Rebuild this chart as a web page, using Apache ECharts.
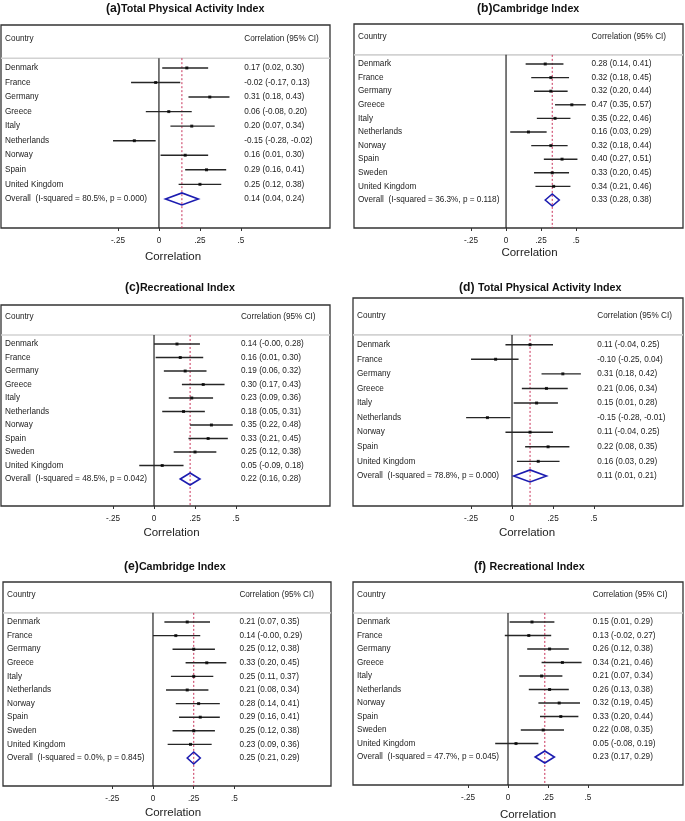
<!DOCTYPE html>
<html>
<head>
<meta charset="utf-8">
<script src="https://cdn.jsdelivr.net/npm/echarts@6/dist/echarts.min.js"></script>
<style>
  html, body { margin: 0; padding: 0; background: #fff; }
  #chart { width: 685px; height: 821px; }
</style>
</head>
<body>
<div id="chart"></div>
<script>
const countries9 = ['Denmark', 'France', 'Germany', 'Greece', 'Italy', 'Netherlands', 'Norway', 'Spain', 'United Kingdom'];
const countries10 = ['Denmark', 'France', 'Germany', 'Greece', 'Italy', 'Netherlands', 'Norway', 'Spain', 'Sweden', 'United Kingdom'];

// (a) Total Physical Activity Index
const aEst = [0.17, -0.02, 0.31, 0.06, 0.20, -0.15, 0.16, 0.29, 0.25];
const aLo = [0.02, -0.17, 0.18, -0.08, 0.07, -0.28, 0.01, 0.16, 0.12];
const aHi = [0.30, 0.13, 0.43, 0.20, 0.34, -0.02, 0.30, 0.41, 0.38];
const aOverall = [0.14, 0.04, 0.24];
const aHet = ['80.5%', '0.000'];

// (b) Cambridge Index
const bEst = [0.28, 0.32, 0.32, 0.47, 0.35, 0.16, 0.32, 0.40, 0.33, 0.34];
const bLo = [0.14, 0.18, 0.20, 0.35, 0.22, 0.03, 0.18, 0.27, 0.20, 0.21];
const bHi = [0.41, 0.45, 0.44, 0.57, 0.46, 0.29, 0.44, 0.51, 0.45, 0.46];
const bOverall = [0.33, 0.28, 0.38];
const bHet = ['36.3%', '0.118'];

// (c) Recreational Index
const cEst = [0.14, 0.16, 0.19, 0.30, 0.23, 0.18, 0.35, 0.33, 0.25, 0.05];
const cLo = [-0.00, 0.01, 0.06, 0.17, 0.09, 0.05, 0.22, 0.21, 0.12, -0.09];
const cHi = [0.28, 0.30, 0.32, 0.43, 0.36, 0.31, 0.48, 0.45, 0.38, 0.18];
const cOverall = [0.22, 0.16, 0.28];
const cHet = ['48.5%', '0.042'];

// (d) Total Physical Activity Index
const dEst = [0.11, -0.10, 0.31, 0.21, 0.15, -0.15, 0.11, 0.22, 0.16];
const dLo = [-0.04, -0.25, 0.18, 0.06, 0.01, -0.28, -0.04, 0.08, 0.03];
const dHi = [0.25, 0.04, 0.42, 0.34, 0.28, -0.01, 0.25, 0.35, 0.29];
const dOverall = [0.11, 0.01, 0.21];
const dHet = ['78.8%', '0.000'];

// (e) Cambridge Index
const eEst = [0.21, 0.14, 0.25, 0.33, 0.25, 0.21, 0.28, 0.29, 0.25, 0.23];
const eLo = [0.07, -0.00, 0.12, 0.20, 0.11, 0.08, 0.14, 0.16, 0.12, 0.09];
const eHi = [0.35, 0.29, 0.38, 0.45, 0.37, 0.34, 0.41, 0.41, 0.38, 0.36];
const eOverall = [0.25, 0.21, 0.29];
const eHet = ['0.0%', '0.845'];

// (f) Recreational Index
const fEst = [0.15, 0.13, 0.26, 0.34, 0.21, 0.26, 0.32, 0.33, 0.22, 0.05];
const fLo = [0.01, -0.02, 0.12, 0.21, 0.07, 0.13, 0.19, 0.20, 0.08, -0.08];
const fHi = [0.29, 0.27, 0.38, 0.46, 0.34, 0.38, 0.45, 0.44, 0.35, 0.19];
const fOverall = [0.23, 0.17, 0.29];
const fHet = ['47.7%', '0.045'];

const tickValues = [-0.25, 0, 0.25, 0.5];
const tickLabels = ['-.25', '0', '.25', '.5'];

const panels = [
  { letter: '(a)', title: 'Total Physical Activity Index', names: countries9, est: aEst, lo: aLo, hi: aHi, overall: aOverall, het: aHet },
  { letter: '(b)', title: 'Cambridge Index', names: countries10, est: bEst, lo: bLo, hi: bHi, overall: bOverall, het: bHet },
  { letter: '(c)', title: 'Recreational Index', names: countries10, est: cEst, lo: cLo, hi: cHi, overall: cOverall, het: cHet },
  { letter: '(d) ', title: 'Total Physical Activity Index', names: countries9, est: dEst, lo: dLo, hi: dHi, overall: dOverall, het: dHet },
  { letter: '(e)', title: 'Cambridge Index', names: countries10, est: eEst, lo: eLo, hi: eHi, overall: eOverall, het: eHet },
  { letter: '(f) ', title: 'Recreational Index', names: countries10, est: fEst, lo: fLo, hi: fHi, overall: fOverall, het: fHet },
];

// box position, axis ranges and text placement for each panel
const layouts = [
  { left: 1, top: 25, width: 329, height: 203, xMin: -0.963, xMax: 1.043, yMin: -2.95, yMax: 11, textX: 0.52, titleLeft: 106, titleTop: 2, nameShift: 7.5, nameGap: 23 },
  { left: 354, top: 24, width: 329, height: 204, xMin: -1.086, xMax: 1.264, yMin: -2.94, yMax: 12.06, textX: 0.61, titleLeft: 477, titleTop: 2, nameShift: 11, nameGap: 19 },
  { left: 1, top: 305, width: 329, height: 201, xMin: -0.933, xMax: 1.073, yMin: -2.89, yMax: 12, textX: 0.53, titleLeft: 125, titleTop: 281, nameShift: 6, nameGap: 21 },
  { left: 353, top: 298, width: 330, height: 208, xMin: -0.970, xMax: 1.043, yMin: -3.2, yMax: 11.06, textX: 0.52, titleLeft: 459, titleTop: 281, nameShift: 9, nameGap: 21 },
  { left: 3, top: 582, width: 328, height: 204, xMin: -0.920, xMax: 1.092, yMin: -2.94, yMax: 12.06, textX: 0.53, titleLeft: 124, titleTop: 560, nameShift: 6, nameGap: 21 },
  { left: 353, top: 582, width: 330, height: 203, xMin: -0.969, xMax: 1.094, yMin: -2.96, yMax: 12.07, textX: 0.53, titleLeft: 474, titleTop: 560, nameShift: 10, nameGap: 24 },
];

const FONT = '"Liberation Sans", Arial, sans-serif';
const TEXT = '#222';
const SEP_Y = -0.67;
const HEAD_Y = -2;

function fmt(v) {
  if (Object.is(v, -0)) return '-0.00';
  return v.toFixed(2);
}

function ciText(e, l, h) {
  return fmt(e) + ' (' + fmt(l) + ', ' + fmt(h) + ')';
}

const grid = [], xAxis = [], yAxis = [], title = [], series = [];

panels.forEach((p, k) => {
  const L = layouts[k];
  const n = p.names.length;

  grid.push({
    left: L.left, top: L.top, width: L.width, height: L.height,
    show: true, borderColor: '#333', borderWidth: 1.3, backgroundColor: '#fff',
    containLabel: false, outerBoundsMode: 'none',
  });

  xAxis.push({
    type: 'value', gridIndex: k, min: L.xMin, max: L.xMax, position: 'bottom',
    axisLine: { show: false, onZero: false },
    axisTick: { show: true, customValues: tickValues, length: 3, lineStyle: { color: '#333' } },
    splitLine: { show: false },
    axisLabel: {
      customValues: tickValues, margin: 9, color: TEXT, fontSize: 8.2, fontFamily: FONT,
      formatter: (v) => { const i = tickValues.indexOf(v); return i >= 0 ? tickLabels[i] : String(v); },
    },
    name: 'Correlation', nameLocation: 'middle', nameGap: L.nameGap,
    nameTextStyle: { color: TEXT, fontSize: 11.5, fontFamily: FONT, padding: [0, 0, 0, L.nameShift * 2] },
  });

  yAxis.push({
    type: 'value', gridIndex: k, inverse: true, min: L.yMin, max: L.yMax, show: false,
  });

  title.push({
    text: '{b|' + p.letter + '}{t|' + p.title + '}',
    left: L.titleLeft, top: L.titleTop, padding: 0,
    textStyle: {
      rich: {
        b: { fontFamily: FONT, fontSize: 12.2, fontWeight: 'bold', color: '#111', lineHeight: 14 },
        t: { fontFamily: FONT, fontSize: 10.7, color: '#111', lineHeight: 14 },
      },
    },
  });

  // header separator, zero line and dashed overall line
  series.push({
    type: 'custom', xAxisIndex: k, yAxisIndex: k, silent: true, z: 1,
    data: [[p.overall[0]]],
    renderItem: (params, api) => {
      const cs = params.coordSys;
      const sep = api.coord([0, SEP_Y]);
      const bot = api.coord([0, L.yMax]);
      const ov = api.coord([api.value(0), SEP_Y]);
      return {
        type: 'group',
        children: [
          { type: 'line', shape: { x1: cs.x, y1: sep[1], x2: cs.x + cs.width, y2: sep[1] }, style: { stroke: '#d2d2d2', lineWidth: 1.6 } },
          { type: 'line', shape: { x1: sep[0], y1: sep[1], x2: bot[0], y2: bot[1] }, style: { stroke: '#222', lineWidth: 1.2 } },
          { type: 'line', shape: { x1: ov[0], y1: ov[1], x2: ov[0], y2: bot[1] }, style: { stroke: '#c8325a', lineWidth: 1, lineDash: [2, 2] } },
        ],
      };
    },
  });

  // confidence intervals
  series.push({
    type: 'custom', xAxisIndex: k, yAxisIndex: k, silent: true, z: 2,
    data: p.lo.map((l, i) => [l, p.hi[i], i]),
    renderItem: (params, api) => {
      const a = api.coord([api.value(0), api.value(2)]);
      const b = api.coord([api.value(1), api.value(2)]);
      return { type: 'line', shape: { x1: a[0], y1: a[1], x2: b[0], y2: b[1] }, style: { stroke: '#262626', lineWidth: 1.4 } };
    },
  });

  // point estimates
  series.push({
    type: 'scatter', xAxisIndex: k, yAxisIndex: k, silent: true, z: 3,
    symbol: 'rect', symbolSize: 3,
    itemStyle: { color: '#000' },
    data: p.est.map((e, i) => [e, i]),
  });

  // overall diamond
  series.push({
    type: 'custom', xAxisIndex: k, yAxisIndex: k, silent: true, z: 3,
    data: [[p.overall[1], p.overall[2], p.overall[0], n]],
    renderItem: (params, api) => {
      const l = api.coord([api.value(0), api.value(3)]);
      const r = api.coord([api.value(1), api.value(3)]);
      const c = api.coord([api.value(2), api.value(3)]);
      return {
        type: 'polygon',
        shape: { points: [[l[0], l[1]], [c[0], c[1] - 6], [r[0], r[1]], [c[0], c[1] + 6]] },
        style: { fill: 'none', stroke: '#1c1cb0', lineWidth: 1.6 },
      };
    },
  });

  // text columns
  const rows = p.names.map((name, i) => ({ name: name, ci: ciText(p.est[i], p.lo[i], p.hi[i]), y: i }));
  rows.push({ name: 'Overall  (I-squared = ' + p.het[0] + ', p = ' + p.het[1] + ')', ci: ciText(p.overall[0], p.overall[1], p.overall[2]), y: n });
  rows.push({ name: 'Country', ci: 'Correlation (95% CI)', y: HEAD_Y });

  series.push({
    type: 'custom', xAxisIndex: k, yAxisIndex: k, silent: true, z: 4,
    data: rows.map((r) => [L.xMin, r.y]),
    renderItem: (params, api) => {
      const r = rows[params.dataIndex];
      const a = api.coord([L.xMin, r.y]);
      const b = api.coord([L.textX, r.y]);
      const st = { fontFamily: FONT, fontSize: 8.2, fill: TEXT, align: 'left', verticalAlign: 'middle' };
      return {
        type: 'group',
        children: [
          { type: 'text', x: a[0] + 4, y: a[1], style: Object.assign({ text: r.name }, st) },
          { type: 'text', x: b[0], y: b[1], style: Object.assign({ text: r.ci }, st) },
        ],
      };
    },
  });
});

const chart = echarts.init(document.getElementById('chart'), null, { renderer: 'canvas' });
chart.setOption({
  animation: false,
  backgroundColor: '#fff',
  title: title,
  grid: grid,
  xAxis: xAxis,
  yAxis: yAxis,
  series: series,
});
</script>
</body>
</html>
